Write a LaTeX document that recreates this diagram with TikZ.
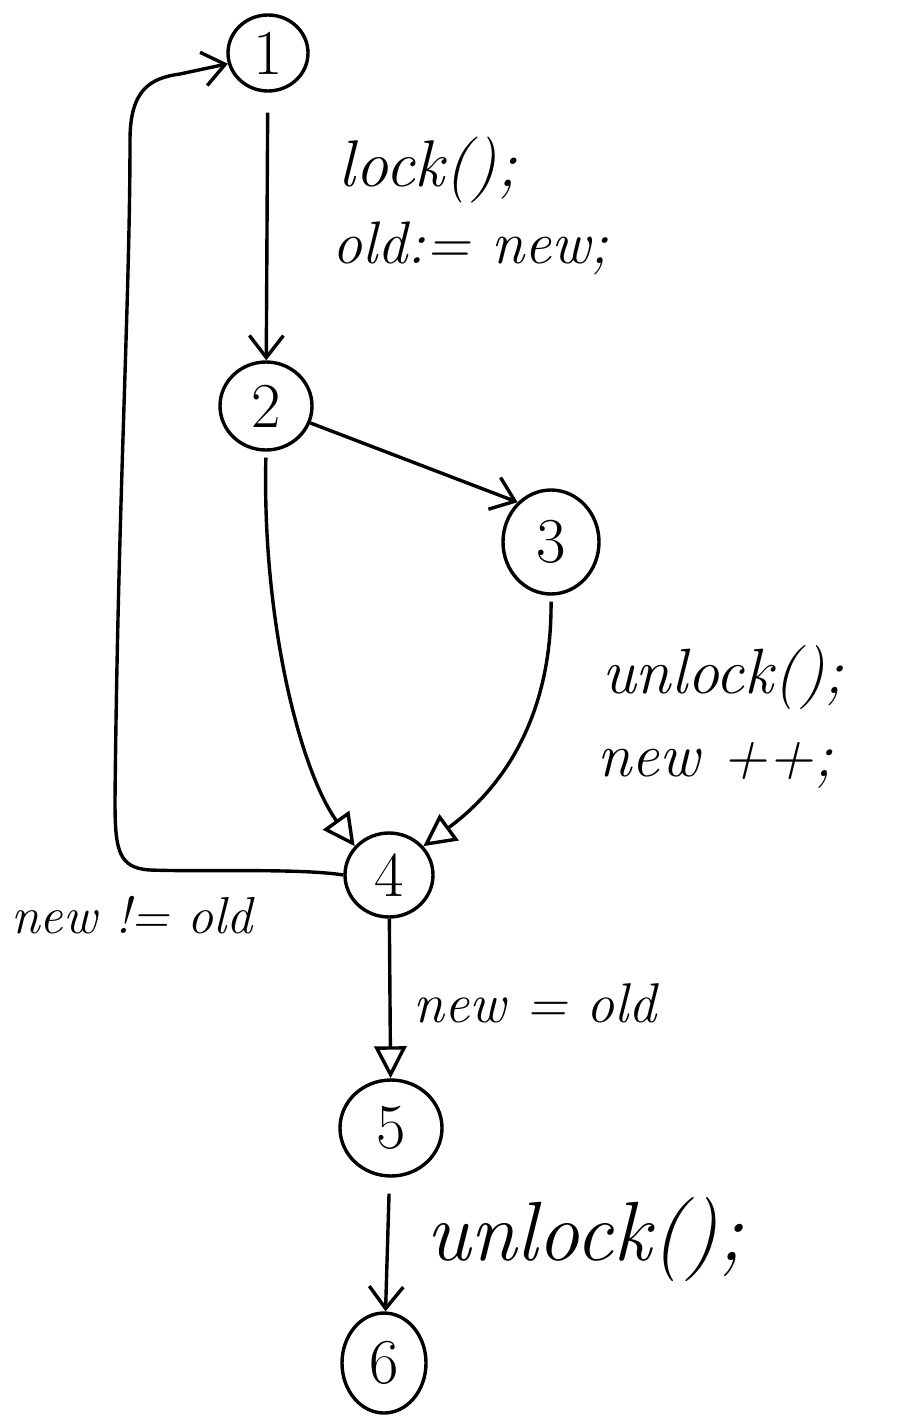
\documentclass[tikz,border=0pt]{standalone}
\usetikzlibrary{arrows.meta,shapes.geometric}
\newcommand{\fs}[1]{\fontsize{#1}{#1}\selectfont}
\begin{document}
\begin{tikzpicture}[x=0.5pt,y=-0.5pt,
  state/.style={draw,ellipse,inner sep=0pt,line width=1.7pt,font=\fs{32}},
  edge/.style={line width=1.7pt},
  barb/.style={edge,-{Straight Barb[length=11pt,width=17pt,line width=1.7pt]}},
  tri/.style={edge,-{Triangle[open,length=16pt,width=16pt,line width=1.7pt]}},
  lbl/.style={inner sep=0pt,font=\itshape}]
\useasboundingbox (0,0) rectangle (916,1427);
% nodes
\node[state,minimum width=40pt,minimum height=38pt] (n1) at (268,53) {1};
\node[state,minimum width=46pt,minimum height=44pt] (n2) at (266,406) {2};
\node[state,minimum width=48pt,minimum height=52pt] (n3) at (551,542) {3};
\node[state,minimum width=44pt,minimum height=42pt] (n4) at (389,875) {4};
\node[state,minimum width=51pt,minimum height=48pt] (n5) at (391,1128) {5};
\node[state,minimum width=42pt,minimum height=50pt] (n6) at (384,1363) {6};
% edges
\draw[barb,shorten <=10pt] (n1) -- (n2);
\draw[barb] (n2) -- (n3.130);
\draw[tri,shorten <=3pt] (n2.south) .. controls (262,620) and (300,770) .. (n4.140);
\draw[tri,shorten <=3pt] (n3.south) .. controls (552,720) and (500,790) .. (n4.40);
\draw[tri] (n4) -- (n5);
\draw[barb,shorten <=8pt] (n5) -- (n6);
\draw[barb] (n4.west) .. controls (300,868) and (200,872) .. (150,870)
  .. controls (118,868) and (115,850) .. (115,800)
  .. controls (118,500) and (130,300) .. (130,140)
  .. controls (130,90) and (150,78) .. (180,74) -- (n1.195);
% labels
\node[lbl,font=\itshape\fs{33}] (l1) at (428,170) {lock();};
\node[lbl,font=\itshape\fs{30}] (l2) at (470,248) {old:= new;};
\node[lbl,font=\itshape\fs{32}] (l3) at (723,678) {unlock();};
\node[lbl,font=\itshape\fs{31}] (l4) at (715,765) {new ++;};
\node[lbl,font=\itshape\fs{26}] (l5) at (132,915) {new != old};
\node[lbl,font=\itshape\fs{28}] (l6) at (535,1003) {new = old};
\node[lbl,font=\itshape\fs{42}] (l7) at (585,1240) {unlock();};
\end{tikzpicture}
\end{document}
